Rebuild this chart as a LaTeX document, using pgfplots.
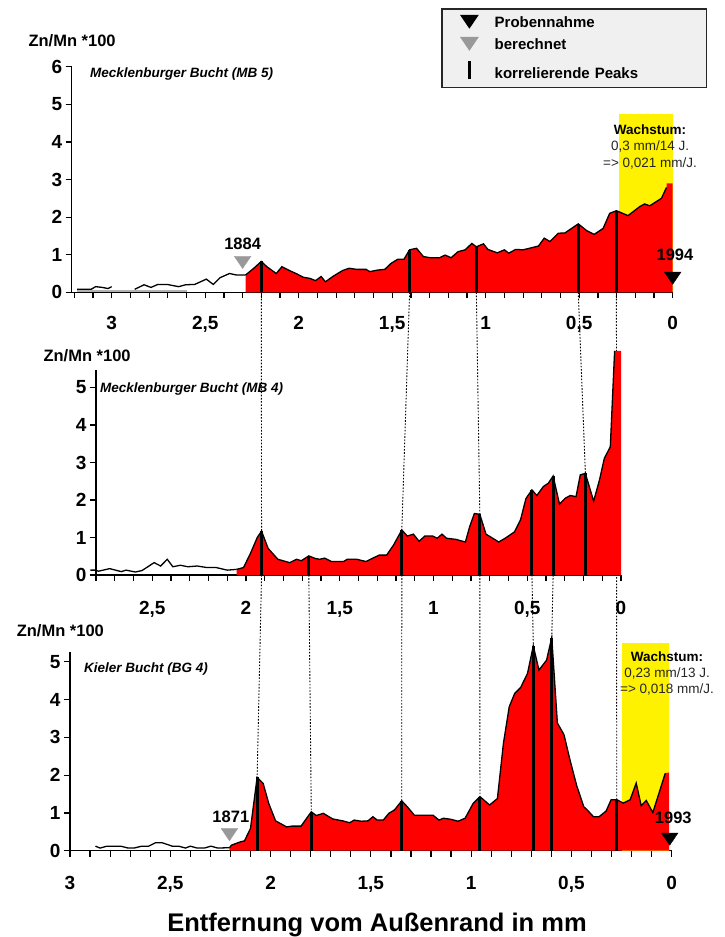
\documentclass[border=0pt]{standalone}
\usepackage{fontspec}
\setmainfont{Liberation Sans}
\usepackage{pgfplots}
\pgfplotsset{compat=1.18}
\usepackage{pgfplotstable}

\newcommand\tickfont{\fontsize{19}{19}\selectfont\bfseries}
\newcommand\lblfont{\fontsize{16.5}{16.5}\selectfont\bfseries}
\newcommand\titlefont{\fontsize{13.5}{13.5}\selectfont\bfseries\itshape}
\newcommand\legfont{\fontsize{15}{15}\selectfont\bfseries}
\newcommand\yearfont{\fontsize{16.5}{16.5}\selectfont\bfseries}
\newcommand\wfont{\fontsize{13.5}{16.3}\selectfont}

\pgfdeclarelayer{bg}
\pgfsetlayers{bg,main}

% ---------- MB 5 ----------
\pgfplotstableread{
x y
3.185 0.08
3.11 0.08
3.086 0.15
3.05 0.13
3.02 0.10
3.0 0.15
}\mbfiveA
\pgfplotstableread{
x y
2.877 0.08
2.827 0.20
2.79 0.13
2.753 0.21
2.704 0.21
2.642 0.15
2.605 0.20
2.556 0.21
2.494 0.35
2.457 0.21
2.42 0.39
2.37 0.50
2.333 0.46
2.284 0.46
}\mbfiveB
\pgfplotstableread{
x y
2.284 0.46
2.24 0.64
2.20 0.82
2.17 0.68
2.12 0.50
2.09 0.68
2.05 0.58
2.01 0.49
1.975 0.40
1.94 0.37
1.91 0.31
1.88 0.42
1.857 0.28
1.815 0.43
1.765 0.58
1.73 0.64
1.69 0.61
1.64 0.61
1.62 0.55
1.58 0.59
1.54 0.61
1.506 0.77
1.47 0.88
1.437 0.88
1.407 1.13
1.37 1.17
1.333 0.95
1.296 0.92
1.247 0.92
1.217 0.99
1.185 0.92
1.148 1.08
1.11 1.13
1.074 1.30
1.05 1.21
1.012 1.29
0.988 1.14
0.938 1.05
0.90 1.13
0.877 1.04
0.84 1.14
0.80 1.13
0.718 1.23
0.687 1.44
0.656 1.35
0.612 1.57
0.576 1.58
0.505 1.82
0.46 1.64
0.42 1.54
0.372 1.70
0.337 2.10
0.301 2.17
0.239 2.04
0.176 2.28
0.15 2.35
0.123 2.30
0.06 2.50
0.033 2.79
}\mbfiveC

% ---------- MB 4 ----------
\pgfplotstableread{
x y
2.83 0.13
2.80 0.13
2.788 0.10
2.727 0.17
2.665 0.09
2.64 0.13
2.59 0.08
2.554 0.12
2.49 0.33
2.455 0.24
2.42 0.42
2.39 0.22
2.35 0.26
2.31 0.22
2.26 0.24
2.21 0.20
2.16 0.20
2.10 0.13
2.05 0.15
}\mbfourA
\pgfplotstableread{
x y
2.05 0.15
2.013 0.20
1.976 0.58
1.94 1.00
1.917 1.17
1.882 0.71
1.83 0.42
1.767 0.33
1.73 0.42
1.705 0.38
1.665 0.51
1.63 0.44
1.607 0.42
1.58 0.45
1.545 0.36
1.48 0.36
1.46 0.42
1.41 0.42
1.36 0.36
1.336 0.42
1.29 0.53
1.25 0.53
1.213 0.80
1.169 1.20
1.14 1.04
1.107 1.09
1.077 0.90
1.046 1.04
1.004 1.04
0.98 0.98
0.955 1.09
0.93 0.98
0.88 0.95
0.83 0.88
0.807 1.29
0.782 1.64
0.753 1.62
0.72 1.09
0.684 0.98
0.652 0.88
0.618 0.98
0.568 1.15
0.536 1.47
0.507 2.04
0.475 2.27
0.449 2.12
0.414 2.36
0.387 2.45
0.362 2.64
0.328 1.89
0.297 2.05
0.27 2.12
0.24 2.09
0.217 2.67
0.19 2.71
0.146 1.97
0.115 2.53
0.089 3.11
0.057 3.42
0.034 5.98
}\mbfourB

% ---------- BG 4 ----------
\pgfplotstableread{
x y
2.873 0.12
2.85 0.07
2.816 0.12
2.747 0.12
2.71 0.07
2.68 0.07
2.643 0.12
2.608 0.12
2.574 0.21
2.54 0.21
2.49 0.12
2.458 0.12
2.424 0.07
2.40 0.12
2.366 0.07
2.33 0.07
2.297 0.12
2.263 0.07
2.205 0.08
}\bgA
\pgfplotstableread{
x y
2.205 0.08
2.194 0.15
2.147 0.24
2.13 0.26
2.10 0.59
2.067 1.94
2.037 1.78
2.009 1.25
1.975 0.79
1.92 0.63
1.894 0.65
1.848 0.65
1.797 1.03
1.772 0.93
1.737 0.99
1.69 0.84
1.64 0.79
1.606 0.74
1.583 0.81
1.548 0.78
1.514 0.79
1.49 0.90
1.468 0.81
1.438 0.81
1.41 0.99
1.382 1.08
1.346 1.32
1.318 1.16
1.283 0.94
1.237 0.94
1.19 0.94
1.16 0.81
1.138 0.86
1.10 0.83
1.065 0.78
1.03 0.86
0.99 1.25
0.956 1.43
0.908 1.21
0.869 1.38
0.839 2.84
0.81 3.81
0.783 4.16
0.753 4.32
0.719 4.69
0.69 5.42
0.662 4.78
0.624 5.04
0.598 5.64
0.57 3.38
0.537 3.07
0.507 2.40
0.473 1.71
0.438 1.16
0.423 1.09
0.39 0.90
0.362 0.90
0.327 1.05
0.302 1.35
0.274 1.35
0.241 1.26
0.207 1.35
0.177 1.79
0.152 1.19
0.127 1.33
0.094 1.01
0.032 2.05
}\bgB

\pgfplotsset{
  panel/.style={
    scale only axis, x dir=reverse, clip=false,
    axis x line*=bottom, axis y line*=left,
    axis line style={line width=1.2pt,-},
    tick style={line width=1.2pt,black},
    tick align=outside,
    major tick length=6pt, minor tick length=6pt,
    xtick={0,0.5,1,1.5,2,2.5,3},
    xticklabels={0,{0,5},1,{1,5},2,{2,5},3},
    tick label style={font=\tickfont},
    ymin=0, xmin=0,
  },
  curve/.style={black, line width=1.3pt},
  redfill/.style={fill=red, draw=none},
  peak/.style={ycomb, black, line width=3pt},
  down/.style={only marks, mark=triangle*, mark size=9.6pt},
}

\begin{document}
\begin{tikzpicture}
\useasboundingbox (0,0) rectangle (725pt,-937pt);

% ---------------- upper panel: MB 5 ----------------
\begin{axis}[panel,
  at={(672.7pt,-292.3pt)}, anchor=origin,
  width=601pt, height=225.6pt,
  xmax=3.214, ymax=6,
  xticklabel style={anchor=base, yshift=-31.2pt},
  minor xtick={0.1,0.2,...,3.21},
  ytick={0,1,2,3,4,5,6}, yticklabels={0,1,2,3,4,5,6},
  legend entries={Probennahme,berechnet,korrelierende Peaks},
  legend cell align=left,
  legend style={at={(1.0576,1.2589)}, anchor=north east,
    fill=black!6, draw=black!85, line width=1.2pt, font=\legfont,
    inner xsep=19pt, inner ysep=6.5pt, row sep=7pt,
    /tikz/every odd column/.append style={column sep=17pt},
    nodes={inner sep=0pt, text height=11pt, text depth=3pt, text width=193pt, yshift=-4pt}},
]
\addlegendimage{down, black, mark options={rotate=180, yscale=.85, fill=black}}
\addlegendimage{down, black!40, mark options={rotate=180, yscale=.85, fill=black!40, draw=black!40}}
\addlegendimage{legend image code/.code={\draw[black, line width=3.5pt] (0.3cm,-9pt) -- (0.3cm,9pt);}}

\addplot[fill=yellow, draw=none] coordinates {(0.287,0) (0.287,4.74) (0,4.74) (0,0)} -- cycle;
\addplot[black!30, line width=1.5pt] coordinates {(3.185,0.03) (2.6,0.03)};
\addplot[redfill] table {\mbfiveC} -- (axis cs:0.033,2.90) -- (axis cs:0,2.90) -- (axis cs:0,0) -- (axis cs:2.284,0) -- cycle;
\addplot[curve] table {\mbfiveA};
\addplot[curve] table {\mbfiveB};
\addplot[curve] table {\mbfiveC};
\addplot[peak] coordinates {(2.20,0.82) (1.407,1.13) (1.05,1.21) (0.505,1.82) (0.301,2.17)};
\addplot[down, black!40, mark options={rotate=180, yscale=.85, fill=black!40, draw=black!40}] coordinates {(2.30,0.85)};
\addplot[down, black, mark options={rotate=180, yscale=.85, fill=black}] coordinates {(0,0.43)};
\node[font=\yearfont] at (axis cs:2.30,1.30) {1884};
\node[font=\yearfont] at (axis cs:-0.012,0.99) {1994};
\node[font=\wfont, align=center, inner sep=0pt, text=black!85] at (axis cs:0.121,3.87)
  {\textbf{\color{black}Wachstum:}\\0,3 mm/14 J.\\=> 0,021 mm/J.};
\coordinate (t1) at (axis cs:2.20,0);
\coordinate (t2) at (axis cs:1.407,0);
\coordinate (t3) at (axis cs:1.05,0);
\coordinate (t4) at (axis cs:0.505,0);
\coordinate (t5) at (axis cs:0.301,0);
\end{axis}

% ---------------- middle panel: MB 4 ----------------
\begin{axis}[panel,
  at={(621pt,-575pt)}, anchor=origin,
  width=525pt, height=205.1pt,
  xmax=2.8, ymax=5.47,
  xticklabel style={anchor=base, yshift=-33pt},
  minor xtick={0.1,0.2,...,2.81},
  ytick={0,1,2,3,4,5}, yticklabels={0,1,2,3,4,5},
]
\addplot[redfill] table {\mbfourB} -- (axis cs:0,5.98) -- (axis cs:0,0) -- (axis cs:2.05,0) -- cycle;
\addplot[curve] table {\mbfourA};
\addplot[curve] table {\mbfourB};
\addplot[peak] coordinates {(1.917,1.17) (1.665,0.51) (1.169,1.20) (0.753,1.62) (0.475,2.27) (0.362,2.64) (0.19,2.71)};
\coordinate (m1) at (axis cs:1.917,1.17);
\coordinate (m3) at (axis cs:1.169,1.20);
\coordinate (m4) at (axis cs:0.753,1.62);
\coordinate (m7) at (axis cs:0.19,2.71);
\coordinate (n1) at (axis cs:1.917,0);
\coordinate (n2) at (axis cs:1.665,0);
\coordinate (n3) at (axis cs:1.169,0);
\coordinate (n4) at (axis cs:0.753,0);
\coordinate (n5) at (axis cs:0.475,0);
\coordinate (n6) at (axis cs:0.362,0);
\end{axis}

% ---------------- lower panel: BG 4 ----------------
\begin{axis}[panel,
  at={(671.7pt,-850.7pt)}, anchor=origin,
  width=601.7pt, height=198.8pt,
  xmax=3, ymax=5.26,
  xticklabel style={anchor=base, yshift=-33.1pt},
  minor xtick={0.1,0.2,...,3.01},
  ytick={0,1,2,3,4,5}, yticklabels={0,1,2,3,4,5},
]
\addplot[fill=yellow, draw=none] coordinates {(0.249,0) (0.249,5.49) (0.012,5.49) (0.012,0)} -- cycle;
\addplot[redfill] table {\bgB} -- (axis cs:0.013,2.07) -- (axis cs:0.013,0) -- (axis cs:2.205,0) -- cycle;
\addplot[curve] table {\bgA};
\addplot[curve] table {\bgB};
\addplot[peak] coordinates {(2.067,1.94) (1.797,1.03) (1.346,1.32) (0.956,1.43) (0.69,5.42) (0.598,5.64) (0.274,1.35)};
\addplot[down, black!40, mark options={rotate=180, yscale=.85, fill=black!40, draw=black!40}] coordinates {(2.205,0.48)};
\addplot[down, black, mark options={rotate=180, yscale=.85, fill=black}] coordinates {(0.01,0.36)};
\node[font=\yearfont] at (axis cs:2.198,0.90) {1871};
\node[font=\yearfont] at (axis cs:-0.008,0.88) {1993};
\node[font=\wfont, align=center, inner sep=0pt, text=black!85] at (axis cs:0.023,4.69)
  {\textbf{\color{black}Wachstum:}\\0,23 mm/13 J.\\=> 0,018 mm/J.};
\coordinate (b1) at (axis cs:2.067,1.94);
\coordinate (b2) at (axis cs:1.797,1.03);
\coordinate (b3) at (axis cs:1.346,1.32);
\coordinate (b4) at (axis cs:0.956,1.43);
\coordinate (b5) at (axis cs:0.69,5.42);
\coordinate (b6) at (axis cs:0.598,5.64);
\coordinate (b7) at (axis cs:0.274,1.35);
\end{axis}

% dotted links between correlating peaks, kept behind the panels
\begin{pgfonlayer}{bg}
\begin{scope}[line width=0.9pt, dash pattern=on 1.6pt off 1.6pt]
\draw (t1) -- (m1);
\draw (t2) -- (m3);
\draw (t3) -- (m4);
\draw (t4) -- (m7);
\draw (t5) -- (b7);
\draw (n1) -- (b1);
\draw (n2) -- (b2);
\draw (n3) -- (b3);
\draw (n4) -- (b4);
\draw (n5) -- (b5);
\draw (n6) -- (b6);
\end{scope}
\end{pgfonlayer}

% axis captions and panel titles
\node[anchor=base west, font=\lblfont] at (25pt,-46pt) {Zn/Mn *100};
\node[anchor=base west, font=\lblfont] at (40pt,-361pt) {Zn/Mn *100};
\node[anchor=base west, font=\lblfont] at (13.3pt,-636pt) {Zn/Mn *100};
\node[anchor=base west, font=\titlefont, inner sep=0pt] at (90pt,-77.3pt) {Mecklenburger Bucht (MB 5)};
\node[anchor=base west, font=\titlefont, inner sep=0pt] at (100pt,-392.7pt) {Mecklenburger Bucht (MB 4)};
\node[anchor=base west, font=\titlefont, inner sep=0pt] at (84pt,-672.7pt) {Kieler Bucht (BG 4)};
\node[anchor=base, font=\fontsize{25.5}{25.5}\selectfont\bfseries] at (377pt,-931.5pt) {Entfernung vom Außenrand in mm};
\end{tikzpicture}
\end{document}
